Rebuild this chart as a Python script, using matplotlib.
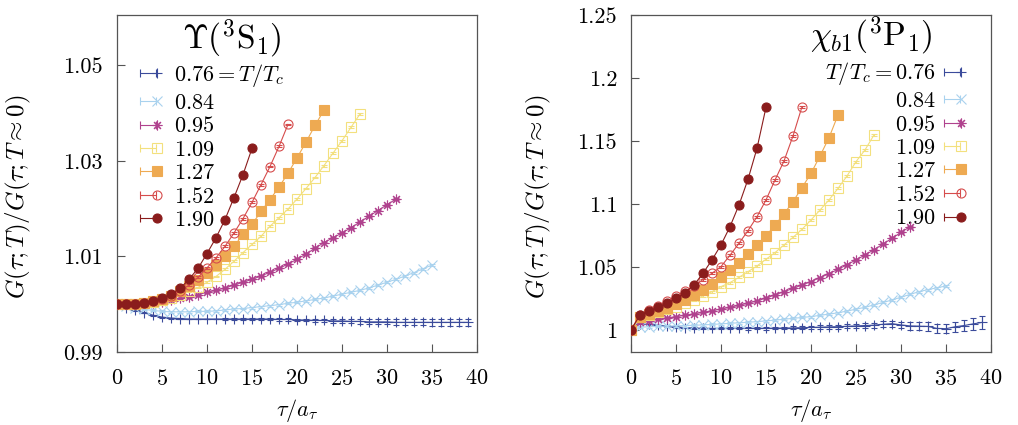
import numpy as np
import matplotlib
matplotlib.use("Agg")
import matplotlib.pyplot as plt
from matplotlib.lines import Line2D
from matplotlib.path import Path
from matplotlib.legend_handler import HandlerTuple

plt.rcParams['font.family'] = 'serif'
plt.rcParams['font.serif'] = ['cmr10']
plt.rcParams['mathtext.fontset'] = 'cm'
plt.rcParams['axes.formatter.use_mathtext'] = True

# temperatures (legend labels) and styles
temps = ['0.76', '0.84', '0.95', '1.09', '1.27', '1.52', '1.90']
colors = ['#3b4b9b', '#a9d2ee', '#b0428e', '#f3e07e', '#eeaa52', '#d64c4c', '#8a1c1c']
markers = ['+', 'x', (8, 2, 0), 's', 's', 'o', 'o']
filled = [False, False, False, False, True, False, True]

# ---- Upsilon(3S1) data: ratio for tau = 0,1,2,...
ups_076 = [1.0000, 0.9993, 0.9987, 0.9982, 0.9977, 0.9973, 0.9971, 0.9970, 0.9969, 0.9969,
           0.9969, 0.9969, 0.9969, 0.9969, 0.9969, 0.9969, 0.9969, 0.9969, 0.9968, 0.9968,
           0.9967, 0.9967, 0.9966, 0.9966, 0.9965, 0.9965, 0.9964, 0.9964, 0.9963, 0.9963,
           0.9963, 0.9962, 0.9962, 0.9962, 0.9962, 0.9962, 0.9962, 0.9962, 0.9962, 0.9962]
ups_084 = [1.0000, 0.9996, 0.9992, 0.9989, 0.9987, 0.9985, 0.9984, 0.9984, 0.9984, 0.9985,
           0.9985, 0.9986, 0.9988, 0.9990, 0.9991, 0.9993, 0.9995, 0.9997, 0.9999, 1.0002,
           1.0004, 1.0007, 1.0010, 1.0013, 1.0017, 1.0021, 1.0025, 1.0029, 1.0034, 1.0040,
           1.0046, 1.0052, 1.0059, 1.0066, 1.0074, 1.0082]
ups_095 = [1.0000, 1.0000, 1.0001, 1.0002, 1.0003, 1.0005, 1.0008, 1.0012, 1.0016, 1.0020,
           1.0025, 1.0029, 1.0034, 1.0040, 1.0046, 1.0052, 1.0059, 1.0067, 1.0075, 1.0084,
           1.0094, 1.0105, 1.0117, 1.0129, 1.0139, 1.0149, 1.0160, 1.0172, 1.0184, 1.0196,
           1.0208, 1.0220]
ups_109 = [1.0000, 1.0000, 1.0001, 1.0003, 1.0005, 1.0008, 1.0014, 1.0020, 1.0027, 1.0035,
           1.0046, 1.0058, 1.0073, 1.0090, 1.0108, 1.0125, 1.0142, 1.0163, 1.0181, 1.0199,
           1.0220, 1.0242, 1.0265, 1.0290, 1.0316, 1.0342, 1.0370, 1.0398]
ups_127 = [1.0000, 1.0000, 1.0001, 1.0003, 1.0006, 1.0011, 1.0018, 1.0027, 1.0038, 1.0051,
           1.0066, 1.0083, 1.0101, 1.0121, 1.0146, 1.0167, 1.0194, 1.0219, 1.0245, 1.0274,
           1.0306, 1.0339, 1.0374, 1.0406]
ups_152 = [1.0000, 1.0000, 1.0001, 1.0003, 1.0006, 1.0010, 1.0018, 1.0027, 1.0040, 1.0056,
           1.0076, 1.0097, 1.0121, 1.0149, 1.0179, 1.0213, 1.0250, 1.0288, 1.0330, 1.0376]
ups_190 = [1.0000, 1.0000, 1.0001, 1.0003, 1.0007, 1.0013, 1.0021, 1.0033, 1.0052, 1.0075,
           1.0106, 1.0139, 1.0177, 1.0223, 1.0271, 1.0326]
ups_076_err = [0.0000, 0.0001, 0.0001, 0.0001, 0.0001, 0.0001, 0.0001, 0.0001, 0.0001, 0.0001,
               0.0001, 0.0001, 0.0002, 0.0002, 0.0002, 0.0002, 0.0002, 0.0002, 0.0003, 0.0003,
               0.0003, 0.0003, 0.0003, 0.0004, 0.0004, 0.0004, 0.0004, 0.0005, 0.0005, 0.0005,
               0.0005, 0.0006, 0.0006, 0.0006, 0.0006, 0.0007, 0.0007, 0.0007, 0.0008, 0.0008]

# ---- chi_b1(3P1) data
chi_076 = [1.0000, 1.0050, 1.0045, 1.0038, 1.0030, 1.0024, 1.0019, 1.0015, 1.0013, 1.0012,
           1.0012, 1.0012, 1.0012, 1.0012, 1.0013, 1.0013, 1.0014, 1.0015, 1.0016, 1.0018,
           1.0020, 1.0022, 1.0024, 1.0026, 1.0029, 1.0032, 1.0035, 1.0038, 1.0045, 1.0050,
           1.0040, 1.0032, 1.0030, 1.0028, 1.0012, 1.0010, 1.0025, 1.0035, 1.0048, 1.0060]
chi_084 = [1.0000, 1.0022, 1.0025, 1.0028, 1.0030, 1.0032, 1.0035, 1.0037, 1.0040, 1.0044,
           1.0048, 1.0053, 1.0057, 1.0061, 1.0066, 1.0072, 1.0078, 1.0085, 1.0092, 1.0099,
           1.0106, 1.0116, 1.0126, 1.0136, 1.0150, 1.0165, 1.0180, 1.0199, 1.0218, 1.0238,
           1.0260, 1.0282, 1.0304, 1.0320, 1.0335, 1.0349]
chi_095 = [1.0000, 1.0061, 1.0074, 1.0085, 1.0095, 1.0106, 1.0117, 1.0128, 1.0140, 1.0153,
           1.0166, 1.0180, 1.0196, 1.0213, 1.0230, 1.0254, 1.0278, 1.0304, 1.0330, 1.0357,
           1.0384, 1.0415, 1.0447, 1.0481, 1.0518, 1.0556, 1.0595, 1.0637, 1.0682, 1.0728,
           1.0774, 1.0820]
chi_109 = [1.0000, 1.0101, 1.0119, 1.0140, 1.0164, 1.0185, 1.0212, 1.0238, 1.0270, 1.0304,
           1.0344, 1.0376, 1.0418, 1.0463, 1.0508, 1.0561, 1.0614, 1.0675, 1.0735, 1.0799,
           1.0873, 1.0952, 1.1032, 1.1124, 1.1222, 1.1336, 1.1429, 1.1548]
chi_127 = [1.0000, 1.0106, 1.0127, 1.0153, 1.0177, 1.0206, 1.0238, 1.0278, 1.0317, 1.0365,
           1.0418, 1.0476, 1.0534, 1.0603, 1.0675, 1.0746, 1.0833, 1.0921, 1.1019, 1.1130,
           1.1243, 1.1381, 1.1526, 1.1706]
chi_152 = [1.0000, 1.0120, 1.0160, 1.0190, 1.0230, 1.0270, 1.0310, 1.0350, 1.0400, 1.0450,
           1.0503, 1.0593, 1.0688, 1.0788, 1.0899, 1.1032, 1.1190, 1.1341, 1.1540, 1.1772]
chi_190 = [1.0000, 1.0120, 1.0150, 1.0180, 1.0210, 1.0250, 1.0295, 1.0357, 1.0450, 1.0556,
           1.0675, 1.0820, 1.0992, 1.1196, 1.1442, 1.1767]
chi_076_err = [0.0000, 0.0005, 0.0005, 0.0005, 0.0006, 0.0006, 0.0006, 0.0007, 0.0007, 0.0007,
               0.0008, 0.0008, 0.0008, 0.0009, 0.0009, 0.0010, 0.0010, 0.0011, 0.0012, 0.0012,
               0.0013, 0.0014, 0.0015, 0.0016, 0.0017, 0.0018, 0.0019, 0.0021, 0.0023, 0.0025,
               0.0027, 0.0029, 0.0031, 0.0033, 0.0035, 0.0038, 0.0040, 0.0043, 0.0046, 0.0050]
other_err_ups = 0.0002
other_err_chi = 0.0008

ups_series = [ups_076, ups_084, ups_095, ups_109, ups_127, ups_152, ups_190]
chi_series = [chi_076, chi_084, chi_095, chi_109, chi_127, chi_152, chi_190]

ups_yticks = [0.99, 1.01, 1.03, 1.05]
chi_yticks = [1.0, 1.05, 1.1, 1.15, 1.2, 1.25]
chi_ylabels = ['1', '1.05', '1.1', '1.15', '1.2', '1.25']
xticks = [0, 5, 10, 15, 20, 25, 30, 35, 40]

# legend sample: gnuplot style |--| error bar
cap_path = Path([(-1, 0), (1, 0), (-1, -0.45), (-1, 0.45), (1, -0.45), (1, 0.45)],
                [Path.MOVETO, Path.LINETO, Path.MOVETO, Path.LINETO, Path.MOVETO, Path.LINETO])

W, H = 1018, 425
fig = plt.figure(figsize=(W / 100, H / 100), dpi=100)
ax1 = fig.add_axes([117 / W, 73 / H, 360 / W, 337 / H])
ax2 = fig.add_axes([631 / W, 73 / H, 360 / W, 337 / H])


def draw(ax, series, err76, err_other):
    handles = []
    for i, vals in enumerate(series):
        tau = np.arange(len(vals))
        err = err76 if i == 0 else err_other
        c = colors[i]
        mfc = c if filled[i] else 'none'
        ms = 7 if i < 3 else 6.5
        ax.errorbar(tau, vals, yerr=err, color=c, marker=markers[i], ms=ms, mfc=mfc,
                    mec=c, mew=0.8, lw=0.8, elinewidth=0.8, capsize=2.5, capthick=0.8,
                    zorder=3 + i)
        cap = Line2D([], [], color=c, ls='none', marker=cap_path, ms=12, mew=0.8, mfc='none')
        mk = Line2D([], [], color=c, ls='none', marker=markers[i], ms=ms, mfc=mfc, mec=c, mew=0.8)
        handles.append((cap, mk))
    ax.set_xlim(0, 40)
    ax.set_xticks(xticks)
    for s in ax.spines.values():
        s.set_color('#555555')
        s.set_linewidth(0.9)
    ax.tick_params(direction='in', length=5.5, width=0.8, color='#555555',
                   labelsize=16, top=False, right=False)
    ax.tick_params(axis='x', pad=12)
    ax.tick_params(axis='y', pad=10)
    ax.set_xlabel(r'$\tau/a_\tau$', fontsize=16, labelpad=6)
    ax.set_ylabel(r'$G(\tau;T)/G(\tau;T\approx 0)$', fontsize=18)
    return handles


legend_kw = dict(handler_map={tuple: HandlerTuple(ndivide=None)}, frameon=False, fontsize=16,
                 handlelength=0.8, handletextpad=0.55, labelspacing=0.17,
                 borderpad=0, borderaxespad=0)

h1 = draw(ax1, ups_series, ups_076_err, other_err_ups)
ax1.set_ylim(0.99, 1.0605)
ax1.set_yticks(ups_yticks)
ax1.set_yticklabels(['%.2f' % v for v in ups_yticks])
ax1.yaxis.set_label_coords(-0.233, 0.46)
labels1 = [r'$0.76 = T/T_c$'] + ['$%s$' % t for t in temps[1:]]
ax1.legend(h1, labels1, loc='upper left', bbox_to_anchor=(0.075, 0.86), **legend_kw)
ax1.text(0.32, 0.93, r'$\Upsilon(^3\mathrm{S}_1)$', transform=ax1.transAxes,
         ha='center', va='center', fontsize=24)

h2 = draw(ax2, chi_series, chi_076_err, other_err_chi)
ax2.set_ylim(0.9825, 1.25)
ax2.set_yticks(chi_yticks)
ax2.set_yticklabels(chi_ylabels)
ax2.yaxis.set_label_coords(-0.217, 0.46)
labels2 = [r'$T/T_c = 0.76$'] + ['$%s$' % t for t in temps[1:]]
ax2.legend(h2, labels2, loc='upper right', bbox_to_anchor=(0.93, 0.865),
           markerfirst=False, **legend_kw)
ax2.text(0.667, 0.94, r'$\chi_{b1}(^3\mathrm{P}_1)$', transform=ax2.transAxes,
         ha='center', va='center', fontsize=24)

fig.savefig('out.png', dpi=100)
